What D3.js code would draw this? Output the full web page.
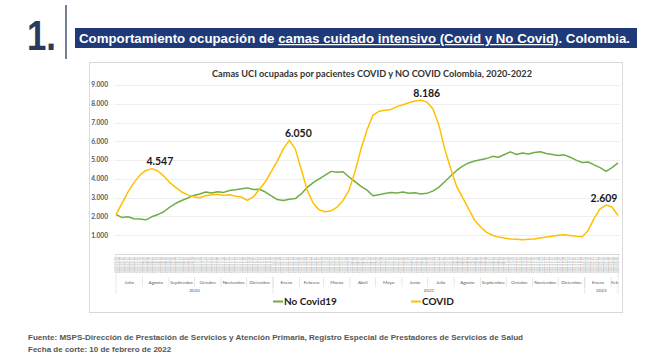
<!DOCTYPE html>
<html><head><meta charset="utf-8">
<script src="https://cdn.jsdelivr.net/npm/d3@7"></script>
<style>body{margin:0;background:#fff}</style></head>
<body><svg id="c" width="670" height="360"></svg>
<script>
const startDate = "2020-07-01";
const endDate = "2022-02-09";
// weekly readings (every 7 days from startDate)
const covid = [2100,2700,3300,3800,4200,4450,4547,4420,4150,3800,3550,3300,3150,3050,3000,3100,3150,3180,3120,3150,3080,3030,2850,3050,3450,3850,4400,4950,5600,6050,5600,4500,3400,2700,2350,2250,2300,2500,2850,3400,4400,5600,6600,7400,7600,7650,7700,7850,7950,8050,8150,8186,8100,7750,6900,5600,4550,3600,3000,2400,1800,1450,1150,1000,900,850,800,780,760,780,800,850,900,950,1000,1020,990,950,920,1250,1900,2400,2609,2500,2050];
const noCovid = [2100,1950,1980,1880,1870,1820,1980,2100,2250,2500,2700,2850,2980,3120,3200,3300,3250,3320,3280,3380,3420,3480,3520,3430,3450,3300,3100,2900,2850,2920,2950,3200,3550,3800,4000,4200,4400,4350,4380,4100,3850,3600,3400,3100,3150,3220,3280,3250,3300,3230,3260,3200,3230,3350,3550,3850,4150,4450,4680,4850,4950,5020,5080,5200,5150,5300,5440,5300,5380,5320,5400,5450,5350,5300,5250,5280,5150,5000,4870,4900,4750,4600,4400,4600,4850];
const seriesNames = ["No Covid19","COVID"];
const monthLabels = ["Julio","Agosto","Septiembre","Octubre","Noviembre","Diciembre","Enero","Febrero","Marzo","Abril","Mayo","Junio","Julio","Agosto","Septiembre","Octubre","Noviembre","Diciembre","Enero","Feb"];
const yearLabels = ["2020","2021","2022"];
const yTicks = [1000,2000,3000,4000,5000,6000,7000,8000,9000];
const peakIndex = [6,29,51,82];
const peakLabels = ["4.547","6.050","8.186","2.609"];

const svg = d3.select("#c");
const parse = d3.utcParse("%Y-%m-%d");
const t0 = parse(startDate), t1 = parse(endDate);
const dates = d3.utcDay.range(t0, d3.utcDay.offset(t1,1), 7);
const x = d3.scaleUtc().domain([t0,t1]).range([116,618]);
const y = d3.scaleLinear().domain([0,9000]).range([254,85]);
const loc = d3.formatLocale({decimal:",",thousands:".",grouping:[3],currency:["",""]});
const fmt = loc.format(",");
const navy = "#1f3a78";
const sans = "'Liberation Sans', Arial, sans-serif";
const cal = "Lato, 'Open Sans', sans-serif";
const cG = "#70ad47", cY = "#ffc000";

svg.append("rect").attr("width",670).attr("height",360).attr("fill","#fff");
// header
svg.append("text").attr("x",27).attr("y",50).attr("font-family",sans).attr("font-weight","bold")
  .attr("font-size",42).attr("fill","#2b3a5c").attr("textLength",29).attr("lengthAdjust","spacingAndGlyphs").text("1.");
svg.append("line").attr("x1",66).attr("x2",66).attr("y1",5).attr("y2",59).attr("stroke","#2b3a5c").attr("stroke-width",1.3);
svg.append("rect").attr("x",75).attr("y",28).attr("width",562).attr("height",20).attr("fill",navy);
const ht = svg.append("text").attr("x",79).attr("y",43).attr("font-family",sans).attr("font-weight","bold")
  .attr("font-size",12.5).attr("fill","#fff").attr("textLength",551).attr("lengthAdjust","spacingAndGlyphs");
ht.append("tspan").text("Comportamiento ocupación de ");
ht.append("tspan").attr("text-decoration","underline").text("camas cuidado intensivo (Covid y No Covid)");
ht.append("tspan").text(". Colombia.");

// chart frame
svg.append("rect").attr("x",89.5).attr("y",62.5).attr("width",533).attr("height",250)
  .attr("fill","#fff").attr("stroke","#d9d9d9");
svg.append("text").attr("x",372).attr("y",77).attr("text-anchor","middle").attr("font-family",cal)
  .attr("font-weight","bold").attr("font-size",9.6).attr("fill","#333")
  .attr("textLength",320).attr("lengthAdjust","spacingAndGlyphs")
  .text("Camas UCI ocupadas por pacientes COVID y NO COVID Colombia, 2020-2022");

// grid + y labels
const g = svg.append("g");
g.selectAll("line.grid").data(yTicks).join("line").attr("class","grid")
  .attr("x1",115).attr("x2",620).attr("y1",d=>Math.round(y(d))+0.5).attr("y2",d=>Math.round(y(d))+0.5)
  .attr("stroke","#eeeeee");
g.selectAll("text.yl").data(yTicks).join("text").attr("class","yl")
  .attr("x",108).attr("y",d=>y(d)+2.3).attr("text-anchor","end").attr("font-family",cal)
  .attr("font-weight","bold").attr("font-size",6.6).attr("fill","#595959").text(d=>fmt(d));
g.append("line").attr("x1",115).attr("x2",620).attr("y1",254.5).attr("y2",254.5).attr("stroke","#d9d9d9");

// tiny date labels
const tickDates = d3.utcDay.range(t0, d3.utcDay.offset(t1,1), 3);
const tf = d3.utcFormat("%Y/%m/%d");
g.selectAll("text.dt").data(tickDates).join("text").attr("class","dt")
  .attr("transform",d=>`translate(${x(d)+1},257) rotate(-90)`).attr("text-anchor","end")
  .attr("font-family",cal).attr("font-size",2.9).attr("fill","#a6a6a6").text(d=>tf(d));

// month and year groups
const months = d3.utcMonth.range(t0, t1);
const mEnd = i => i+1 < months.length ? months[i+1] : t1;
g.selectAll("text.mo").data(months).join("text").attr("class","mo")
  .attr("x",(d,i)=>(x(d)+x(mEnd(i)))/2).attr("y",283.5).attr("text-anchor","middle")
  .attr("font-family",cal).attr("font-size",4.6).attr("fill","#595959").text((d,i)=>monthLabels[i]);
g.selectAll("line.mo").data(months.slice(1)).join("line").attr("class","mo")
  .attr("x1",d=>x(d)).attr("x2",d=>x(d)).attr("y1",277).attr("y2",287).attr("stroke","#d9d9d9").attr("stroke-width",0.6);
const years = d3.utcYear.range(t0, t1);
const yb = [t0, ...years, t1];
g.selectAll("line.yr").data(yb).join("line").attr("class","yr")
  .attr("x1",d=>x(d)).attr("x2",d=>x(d)).attr("y1",(d,i)=> (i===0||i===yb.length-1)?255:277).attr("y2",294)
  .attr("stroke","#d9d9d9").attr("stroke-width",0.6);
g.selectAll("text.yr").data(yearLabels).join("text").attr("class","yr")
  .attr("x",(d,i)=>(x(yb[i])+x(yb[i+1]))/2).attr("y",292).attr("text-anchor","middle")
  .attr("font-family",cal).attr("font-size",4.6).attr("fill","#595959").text(d=>d);

// series
const line = d3.line().x((d,i)=>x(dates[i])).y(d=>y(d));
svg.append("path").datum(noCovid).attr("d",line).attr("fill","none").attr("stroke",cG).attr("stroke-width",1.5).attr("stroke-linejoin","round");
svg.append("path").datum(covid).attr("d",line).attr("fill","none").attr("stroke",cY).attr("stroke-width",1.5).attr("stroke-linejoin","round");

// peak labels
const dxs = [8,9,6,-2];
svg.selectAll("text.pk").data(peakIndex).join("text").attr("class","pk")
  .attr("x",(d,i)=>x(dates[d])+dxs[i]).attr("y",d=>y(covid[d])-3.5).attr("text-anchor","middle")
  .attr("font-family",cal).attr("font-weight","bold").attr("font-size",10.5).attr("fill","#1a1a1a")
  .text((d,i)=>peakLabels[i]);

// legend
const lg = [{n:seriesNames[0],c:cG,x:273},{n:seriesNames[1],c:cY,x:411}];
const le = svg.selectAll("g.lg").data(lg).join("g").attr("class","lg");
le.append("line").attr("x1",d=>d.x).attr("x2",d=>d.x+10).attr("y1",301.5).attr("y2",301.5).attr("stroke",d=>d.c).attr("stroke-width",2);
le.append("text").attr("x",d=>d.x+11).attr("y",305).attr("font-family",cal).attr("font-weight","bold")
  .attr("font-size",10).attr("fill","#1a1a1a").text(d=>d.n);

// footer
svg.append("text").attr("x",28).attr("y",340).attr("font-family",sans).attr("font-weight","bold")
  .attr("font-size",8).attr("fill","#555").attr("textLength",495).attr("lengthAdjust","spacingAndGlyphs")
  .text("Fuente: MSPS-Dirección de Prestación de Servicios y Atención Primaria, Registro Especial de Prestadores de Servicios de Salud");
svg.append("text").attr("x",28).attr("y",352).attr("font-family",sans).attr("font-weight","bold")
  .attr("font-size",8).attr("fill","#555")
  .text("Fecha de corte: 10 de febrero de 2022");
</script></body></html>
